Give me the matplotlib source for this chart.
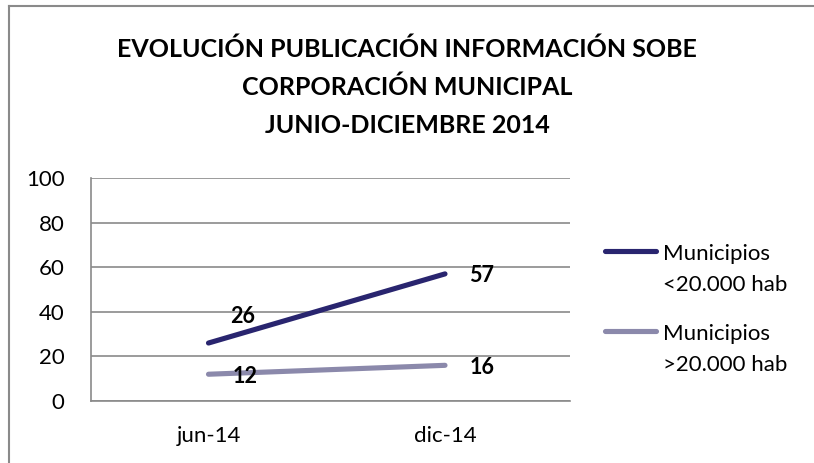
import matplotlib.pyplot as plt

periods = ['jun-14', 'dic-14']
small_munis = [26, 57]
large_munis = [12, 16]
series_names = ['Municipios\n<20.000 hab', 'Municipios\n>20.000 hab']
y_ticks = [0, 20, 40, 60, 80, 100]
title = 'EVOLUCIÓN PUBLICACIÓN INFORMACIÓN SOBE\nCORPORACIÓN MUNICIPAL\nJUNIO-DICIEMBRE 2014'

body_font = ['Lato', 'DejaVu Sans']
W, H = 814, 463

fig = plt.figure(figsize=(W / 100, H / 100), dpi=100)

# chart frame (only left and top edges are visible in the crop)
frame_col = '#8a8a8a'
fig.add_artist(plt.Line2D([9 / W, 9 / W], [0, 1 - 6 / H], color=frame_col, lw=1.5))
fig.add_artist(plt.Line2D([9 / W, 1], [1 - 6 / H, 1 - 6 / H], color=frame_col, lw=1.5))

ax = fig.add_axes([91 / W, 1 - 401 / H, (570 - 91) / W, (401 - 178) / H])
x = [0, 1]
colors = ['#29256f', '#8b89ab']
all_series = [small_munis, large_munis]
for vals, color in zip(all_series, colors):
    ax.plot(x, vals, color=color, lw=3.7, solid_capstyle='round')

# data labels (offsets in pixels)
offsets = {(0, 0): (34, 27), (0, 1): (37, -2), (1, 0): (37, -2), (1, 1): (37, -2)}
for si, vals in enumerate(all_series):
    for pi, v in enumerate(vals):
        dx, dy = offsets[(si, pi)]
        ax.annotate(str(v), (x[pi], v), xytext=(dx * 0.72, dy * 0.72),
                    textcoords='offset points', ha='center', va='center',
                    fontsize=15.5, fontweight='bold', family=body_font)

step = 236.5
ax.set_xlim(-(208.5 - 91) / step, 1 + (570 - 445) / step)
ax.set_ylim(0, 100)
ax.set_yticks(y_ticks)
ax.set_xticks(x)
ax.set_xticklabels(periods)
ax.tick_params(length=0, labelsize=16, colors='black')
ax.tick_params(axis='y', pad=19)
ax.tick_params(axis='x', pad=18)
for lbl in ax.get_xticklabels() + ax.get_yticklabels():
    lbl.set_family(body_font)
ax.grid(axis='y', color=frame_col, lw=1.2)
ax.set_axisbelow(True)
for s in ['top', 'right']:
    ax.spines[s].set_visible(False)
for s in ['left', 'bottom']:
    ax.spines[s].set_color(frame_col)
    ax.spines[s].set_linewidth(1.2)

fig.text(0.5, 1 - 87 / H, title, ha='center', va='center', fontsize=18,
         fontweight='bold', family=body_font, linespacing=1.76)

# legend drawn by hand so the key lines up with the first text line
leg_rows = [251, 331]
for name, color, yrow in zip(series_names, colors, leg_rows):
    fy = 1 - yrow / H
    fig.add_artist(plt.Line2D([605 / W, 656 / W], [fy, fy], color=color, lw=3.7,
                              solid_capstyle='round'))
    for k, part in enumerate(name.split('\n')):
        fig.text(663 / W, 1 - (yrow + 1 + 31 * k) / H, part, ha='left',
                 va='center_baseline', fontsize=16, family=body_font)

fig.savefig('out.png', dpi=100)
